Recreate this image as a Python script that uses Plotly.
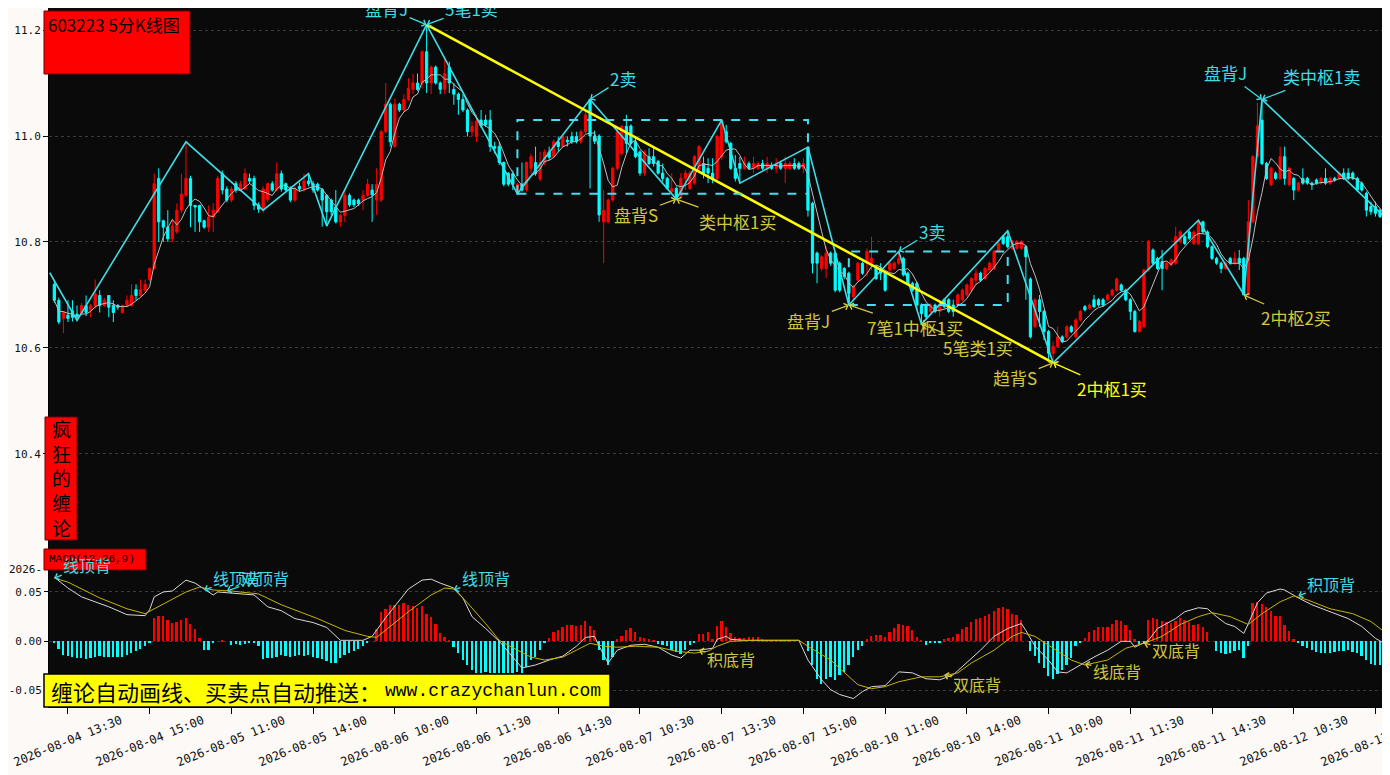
import numpy as np
import pandas as pd
import plotly.graph_objects as go

# 5-minute bars, bar 0 = 2026-08-04 13:15, 48 bars per trading day
opens = [
    10.720, 10.690, 10.656, 10.662, 10.670, 10.664, 10.667, 10.680, 10.671, 10.680,
    10.699, 10.680, 10.699, 10.680, 10.680, 10.667, 10.680, 10.680, 10.710, 10.699,
    10.709, 10.729, 10.750, 10.920, 10.840, 10.828, 10.806, 10.819, 10.860, 10.888,
    10.920, 10.869, 10.869, 10.840, 10.828, 10.847, 10.857, 10.929, 10.900, 10.879,
    10.910, 10.898, 10.900, 10.920, 10.920, 10.870, 10.860, 10.880, 10.910, 10.898,
    10.929, 10.910, 10.900, 10.879, 10.905, 10.900, 10.915, 10.910, 10.909, 10.899,
    10.888, 10.879, 10.866, 10.838, 10.850, 10.888, 10.879, 10.879, 10.879, 10.888,
    10.898, 10.879, 10.879, 11.008, 11.060, 10.980, 11.060, 11.049, 11.069, 11.088,
    11.100, 11.100, 11.159, 11.100, 11.130, 11.100, 11.088, 11.130, 11.088, 11.079,
    11.069, 11.049, 11.008, 10.999, 11.030, 11.030, 11.030, 10.980, 10.980, 10.950,
    10.929, 10.929, 10.898, 10.909, 10.899, 10.939, 10.950, 10.919, 10.950, 10.970,
    10.961, 10.989, 10.980, 10.992, 10.999, 10.999, 10.989, 11.008, 11.069, 11.000,
    11.000, 10.838, 10.838, 10.879, 10.939, 10.967, 11.018, 11.019, 10.989, 10.970,
    10.930, 10.961, 10.961, 10.952, 10.930, 10.920, 10.895, 10.901, 10.886, 10.920,
    10.901, 10.911, 10.936, 10.948, 10.939, 10.930, 10.920, 10.961, 11.008, 10.986,
    10.939, 10.948, 10.939, 10.948, 10.939, 10.939, 10.948, 10.939, 10.945, 10.939,
    10.948, 10.939, 10.939, 10.948, 10.948, 10.939, 10.979, 10.873, 10.779, 10.750,
    10.750, 10.779, 10.779, 10.760, 10.750, 10.741, 10.697, 10.728, 10.760, 10.760,
    10.760, 10.753, 10.750, 10.741, 10.747, 10.750, 10.760, 10.769, 10.741, 10.722,
    10.722, 10.681, 10.681, 10.669, 10.681, 10.669, 10.691, 10.691, 10.681, 10.681,
    10.691, 10.700, 10.709, 10.728, 10.741, 10.731, 10.747, 10.750, 10.782, 10.810,
    10.810, 10.788, 10.788, 10.788, 10.791, 10.730, 10.640, 10.691, 10.669, 10.631,
    10.590, 10.603, 10.621, 10.621, 10.640, 10.621, 10.653, 10.678, 10.675, 10.691,
    10.691, 10.691, 10.691, 10.700, 10.709, 10.719, 10.709, 10.691, 10.669, 10.631,
    10.640, 10.747, 10.785, 10.769, 10.763, 10.750, 10.757, 10.760, 10.801, 10.810,
    10.819, 10.797, 10.797, 10.838, 10.819, 10.791, 10.769, 10.760, 10.750, 10.769,
    10.760, 10.769, 10.769, 10.700, 10.838, 10.961, 11.030, 10.948, 10.908, 10.930,
    10.920, 10.961, 10.908, 10.920, 10.898, 10.920, 10.920, 10.911, 10.917, 10.911,
    10.920, 10.911, 10.920, 10.920, 10.930, 10.930, 10.930, 10.920, 10.911, 10.892,
    10.867, 10.867, 10.860, 10.857, 10.851,
]
highs = [
    10.727, 10.695, 10.670, 10.690, 10.690, 10.680, 10.685, 10.699, 10.683, 10.729,
    10.709, 10.695, 10.700, 10.690, 10.683, 10.682, 10.699, 10.720, 10.720, 10.729,
    10.729, 10.752, 10.929, 10.939, 10.842, 10.860, 10.844, 10.873, 10.929, 10.989,
    10.925, 10.870, 10.870, 10.842, 10.869, 10.873, 10.925, 10.935, 10.905, 10.905,
    10.915, 10.915, 10.939, 10.929, 10.925, 10.875, 10.905, 10.912, 10.915, 10.950,
    10.935, 10.912, 10.905, 10.905, 10.912, 10.929, 10.929, 10.915, 10.912, 10.902,
    10.890, 10.882, 10.898, 10.853, 10.898, 10.892, 10.882, 10.882, 10.898, 10.919,
    10.909, 10.939, 11.011, 11.100, 11.063, 11.071, 11.063, 11.079, 11.109, 11.118,
    11.118, 11.162, 11.210, 11.133, 11.133, 11.103, 11.150, 11.140, 11.100, 11.082,
    11.079, 11.052, 11.028, 11.040, 11.049, 11.040, 11.049, 10.989, 10.989, 10.952,
    10.932, 10.935, 10.912, 10.950, 10.952, 10.967, 10.980, 10.970, 10.975, 10.980,
    10.993, 10.999, 11.003, 10.999, 11.008, 11.008, 11.012, 11.045, 11.069, 11.010,
    11.003, 10.898, 10.882, 10.942, 11.018, 11.021, 11.040, 11.022, 10.999, 10.973,
    10.973, 10.977, 10.977, 10.955, 10.948, 10.923, 10.930, 10.905, 10.930, 10.936,
    10.935, 10.964, 10.983, 10.961, 10.958, 10.958, 11.002, 11.030, 11.021, 10.989,
    10.964, 10.961, 10.961, 10.952, 10.961, 10.952, 10.955, 10.961, 10.950, 10.958,
    10.952, 10.961, 10.952, 10.958, 10.952, 10.958, 10.979, 10.876, 10.782, 10.775,
    10.791, 10.782, 10.782, 10.763, 10.753, 10.744, 10.719, 10.763, 10.763, 10.788,
    10.810, 10.756, 10.760, 10.744, 10.763, 10.763, 10.782, 10.772, 10.744, 10.725,
    10.725, 10.684, 10.684, 10.684, 10.684, 10.691, 10.694, 10.694, 10.691, 10.703,
    10.712, 10.722, 10.734, 10.750, 10.744, 10.753, 10.763, 10.785, 10.800, 10.813,
    10.821, 10.804, 10.804, 10.804, 10.794, 10.733, 10.694, 10.700, 10.672, 10.634,
    10.612, 10.640, 10.624, 10.643, 10.643, 10.656, 10.672, 10.681, 10.684, 10.700,
    10.694, 10.694, 10.703, 10.712, 10.733, 10.722, 10.712, 10.694, 10.672, 10.653,
    10.750, 10.804, 10.788, 10.772, 10.785, 10.763, 10.769, 10.829, 10.822, 10.813,
    10.822, 10.822, 10.840, 10.840, 10.822, 10.794, 10.772, 10.763, 10.763, 10.772,
    10.782, 10.785, 10.772, 10.879, 10.964, 11.062, 11.069, 10.951, 10.942, 10.933,
    10.980, 10.980, 10.942, 10.923, 10.914, 10.939, 10.923, 10.914, 10.920, 10.923,
    10.939, 10.923, 10.923, 10.933, 10.939, 10.939, 10.933, 10.923, 10.914, 10.895,
    10.876, 10.876, 10.863, 10.860, 10.854,
]
lows = [
    10.685, 10.645, 10.628, 10.649, 10.650, 10.652, 10.662, 10.660, 10.658, 10.674,
    10.667, 10.677, 10.658, 10.649, 10.672, 10.665, 10.678, 10.678, 10.690, 10.697,
    10.705, 10.726, 10.748, 10.800, 10.800, 10.800, 10.800, 10.815, 10.855, 10.885,
    10.828, 10.819, 10.819, 10.825, 10.819, 10.819, 10.855, 10.890, 10.875, 10.875,
    10.893, 10.895, 10.898, 10.910, 10.860, 10.855, 10.855, 10.875, 10.895, 10.895,
    10.895, 10.895, 10.875, 10.875, 10.895, 10.895, 10.905, 10.893, 10.895, 10.829,
    10.830, 10.850, 10.835, 10.829, 10.838, 10.866, 10.866, 10.868, 10.860, 10.885,
    10.838, 10.851, 10.875, 11.005, 10.980, 10.978, 11.045, 11.045, 11.066, 11.079,
    11.085, 11.090, 11.081, 11.079, 11.097, 11.079, 11.079, 11.081, 11.059, 11.040,
    11.045, 10.999, 10.999, 10.989, 11.015, 11.017, 10.970, 10.967, 10.945, 10.905,
    10.905, 10.898, 10.891, 10.895, 10.895, 10.929, 10.925, 10.915, 10.945, 10.955,
    10.958, 10.970, 10.977, 10.980, 10.985, 10.986, 10.985, 11.005, 10.901, 10.985,
    10.838, 10.760, 10.835, 10.876, 10.935, 10.963, 10.967, 10.983, 10.958, 10.925,
    10.925, 10.945, 10.942, 10.927, 10.914, 10.898, 10.892, 10.879, 10.883, 10.898,
    10.898, 10.908, 10.933, 10.920, 10.911, 10.911, 10.917, 10.955, 10.986, 10.936,
    10.914, 10.911, 10.936, 10.936, 10.930, 10.936, 10.936, 10.930, 10.936, 10.930,
    10.936, 10.911, 10.936, 10.936, 10.936, 10.930, 10.848, 10.741, 10.722, 10.745,
    10.732, 10.755, 10.705, 10.705, 10.730, 10.681, 10.690, 10.725, 10.738, 10.735,
    10.747, 10.728, 10.728, 10.706, 10.744, 10.747, 10.757, 10.735, 10.719, 10.706,
    10.672, 10.645, 10.656, 10.666, 10.666, 10.659, 10.675, 10.666, 10.659, 10.678,
    10.688, 10.697, 10.706, 10.719, 10.725, 10.728, 10.744, 10.747, 10.779, 10.794,
    10.788, 10.785, 10.785, 10.785, 10.691, 10.618, 10.637, 10.640, 10.615, 10.574,
    10.572, 10.600, 10.609, 10.618, 10.628, 10.618, 10.650, 10.669, 10.672, 10.675,
    10.678, 10.678, 10.688, 10.697, 10.706, 10.706, 10.688, 10.653, 10.629, 10.629,
    10.637, 10.744, 10.757, 10.747, 10.709, 10.747, 10.754, 10.757, 10.797, 10.794,
    10.804, 10.794, 10.794, 10.816, 10.788, 10.766, 10.757, 10.741, 10.747, 10.757,
    10.757, 10.747, 10.700, 10.700, 10.835, 10.958, 10.945, 10.917, 10.905, 10.917,
    10.917, 10.908, 10.905, 10.879, 10.895, 10.908, 10.908, 10.898, 10.908, 10.908,
    10.908, 10.908, 10.914, 10.917, 10.917, 10.917, 10.917, 10.895, 10.895, 10.848,
    10.851, 10.848, 10.845, 10.839, 10.835,
]
closes = [
    10.690, 10.649, 10.667, 10.656, 10.658, 10.660, 10.680, 10.667, 10.680, 10.702,
    10.680, 10.690, 10.677, 10.667, 10.677, 10.680, 10.690, 10.699, 10.699, 10.710,
    10.720, 10.750, 10.910, 10.838, 10.828, 10.806, 10.830, 10.860, 10.890, 10.920,
    10.869, 10.866, 10.838, 10.828, 10.847, 10.860, 10.920, 10.898, 10.879, 10.900,
    10.898, 10.910, 10.929, 10.915, 10.869, 10.862, 10.900, 10.910, 10.898, 10.929,
    10.900, 10.898, 10.879, 10.900, 10.900, 10.915, 10.910, 10.898, 10.898, 10.879,
    10.857, 10.857, 10.838, 10.850, 10.888, 10.870, 10.870, 10.872, 10.888, 10.909,
    10.889, 10.909, 11.008, 11.060, 10.989, 11.060, 11.049, 11.069, 11.090, 11.100,
    11.088, 11.159, 11.100, 11.130, 11.100, 11.088, 11.118, 11.100, 11.079, 11.069,
    11.049, 11.008, 11.018, 11.028, 11.019, 11.021, 10.980, 10.977, 10.950, 10.909,
    10.909, 10.909, 10.909, 10.898, 10.950, 10.961, 10.929, 10.950, 10.970, 10.960,
    10.989, 10.980, 10.999, 10.989, 10.989, 10.990, 11.008, 11.040, 11.000, 10.990,
    10.851, 10.860, 10.879, 10.939, 11.008, 11.018, 10.986, 10.986, 10.961, 10.930,
    10.970, 10.948, 10.948, 10.930, 10.920, 10.901, 10.901, 10.881, 10.920, 10.930,
    10.930, 10.961, 10.980, 10.930, 10.930, 10.920, 10.999, 11.030, 10.989, 10.939,
    10.920, 10.939, 10.948, 10.939, 10.948, 10.948, 10.939, 10.948, 10.939, 10.948,
    10.939, 10.948, 10.948, 10.939, 10.939, 10.948, 10.860, 10.760, 10.760, 10.772,
    10.779, 10.760, 10.709, 10.709, 10.735, 10.703, 10.716, 10.760, 10.741, 10.782,
    10.769, 10.731, 10.741, 10.709, 10.760, 10.760, 10.769, 10.738, 10.722, 10.709,
    10.681, 10.665, 10.659, 10.681, 10.669, 10.681, 10.678, 10.669, 10.669, 10.700,
    10.709, 10.719, 10.731, 10.741, 10.728, 10.750, 10.760, 10.782, 10.797, 10.797,
    10.791, 10.801, 10.801, 10.801, 10.772, 10.621, 10.691, 10.669, 10.631, 10.590,
    10.603, 10.621, 10.612, 10.640, 10.631, 10.653, 10.669, 10.672, 10.681, 10.678,
    10.681, 10.681, 10.700, 10.709, 10.730, 10.709, 10.691, 10.669, 10.631, 10.650,
    10.747, 10.801, 10.760, 10.750, 10.750, 10.760, 10.766, 10.810, 10.819, 10.797,
    10.807, 10.819, 10.838, 10.819, 10.791, 10.769, 10.760, 10.750, 10.760, 10.760,
    10.769, 10.760, 10.700, 10.838, 10.961, 11.019, 10.948, 10.920, 10.939, 10.920,
    10.961, 10.920, 10.939, 10.898, 10.911, 10.911, 10.911, 10.908, 10.911, 10.920,
    10.911, 10.920, 10.917, 10.930, 10.920, 10.920, 10.920, 10.898, 10.898, 10.860,
    10.857, 10.854, 10.848, 10.842, 10.838,
]

# MACD(12,26,9) histogram, one value per bar
macd_hist = [
    -0.001, -0.008, -0.014, -0.015, -0.016, -0.017, -0.017, -0.018, -0.017, -0.016,
    -0.015, -0.016, -0.016, -0.016, -0.016, -0.016, -0.014, -0.012, -0.010, -0.008,
    -0.005, -0.002, 0.024, 0.026, 0.026, 0.022, 0.019, 0.020, 0.022, 0.024,
    0.018, 0.012, 0.003, -0.009, -0.009, -0.002, 0.000, 0.001, 0.000, -0.004,
    -0.003, -0.004, -0.003, -0.002, -0.002, -0.005, -0.018, -0.017, -0.017, -0.016,
    -0.014, -0.015, -0.016, -0.015, -0.014, -0.015, -0.014, -0.016, -0.017, -0.018,
    -0.020, -0.022, -0.022, -0.017, -0.014, -0.012, -0.010, -0.008, -0.005, -0.002,
    0.000, 0.012, 0.030, 0.033, 0.037, 0.037, 0.037, 0.039, 0.037, 0.036,
    0.034, 0.036, 0.028, 0.025, 0.018, 0.008, 0.004, 0.001, -0.006, -0.012,
    -0.019, -0.024, -0.029, -0.032, -0.032, -0.031, -0.032, -0.032, -0.032, -0.032,
    -0.032, -0.032, -0.031, -0.032, -0.026, -0.019, -0.016, -0.009, -0.002, 0.003,
    0.009, 0.011, 0.014, 0.017, 0.017, 0.016, 0.017, 0.021, 0.016, 0.011,
    -0.009, -0.019, -0.024, -0.016, 0.002, 0.005, 0.011, 0.013, 0.009, 0.004,
    0.003, 0.002, 0.001, -0.003, -0.004, -0.005, -0.009, -0.011, -0.013, -0.009,
    -0.004, -0.002, 0.007, 0.007, 0.009, 0.002, 0.016, 0.021, 0.014, 0.008,
    0.004, 0.003, 0.003, 0.004, 0.004, 0.004, 0.002, 0.001, 0.001, 0.001,
    0.001, 0.001, 0.001, 0.000, 0.000, 0.000, -0.010, -0.024, -0.038, -0.043,
    -0.038, -0.036, -0.039, -0.034, -0.031, -0.024, -0.016, -0.009, -0.005, 0.002,
    0.005, 0.006, 0.006, 0.004, 0.009, 0.013, 0.018, 0.017, 0.016, 0.011,
    0.004, 0.001, -0.004, -0.002, -0.001, -0.001, 0.002, 0.003, 0.004, 0.007,
    0.012, 0.014, 0.020, 0.023, 0.024, 0.026, 0.028, 0.031, 0.034, 0.035,
    0.033, 0.028, 0.027, 0.022, 0.000, -0.010, -0.015, -0.022, -0.027, -0.035,
    -0.038, -0.033, -0.029, -0.024, -0.017, -0.005, -0.001, 0.003, 0.009, 0.011,
    0.014, 0.014, 0.014, 0.018, 0.022, 0.021, 0.017, 0.011, 0.002, -0.003,
    -0.003, 0.022, 0.024, 0.023, 0.021, 0.020, 0.019, 0.021, 0.024, 0.022,
    0.020, 0.017, 0.018, 0.014, 0.009, 0.000, -0.010, -0.012, -0.013, -0.012,
    -0.010, -0.009, -0.017, -0.005, 0.039, 0.040, 0.038, 0.035, 0.031, 0.026,
    0.026, 0.017, 0.010, 0.002, -0.001, -0.005, -0.007, -0.009, -0.011, -0.012,
    -0.012, -0.012, -0.011, -0.010, -0.010, -0.009, -0.011, -0.012, -0.015, -0.019,
    -0.023, -0.024, -0.024, -0.022, -0.023,
]

# DIF / DEA lines, read at these bars
dif_idx = [0, 3, 6, 9, 12, 16, 20, 21, 22, 24, 26, 29, 31, 33, 35, 36, 39, 44, 47, 50,
           53, 57, 60, 63, 68, 70, 73, 75, 76, 78, 81, 83, 85, 88, 90, 92, 95, 98, 101, 103,
           106, 109, 112, 115, 117, 119, 120, 122, 124, 127, 130, 133, 136, 138, 140, 142, 145, 146, 148, 149,
           152, 157, 164, 166, 169, 171, 173, 176, 178, 180, 183, 186, 189, 192, 195, 198, 201, 204, 207, 210,
           213, 214, 216, 219, 221, 223, 226, 229, 232, 235, 237, 238, 241, 243, 247, 249, 252, 254, 256, 258,
           260, 262, 263, 265, 267, 270, 271, 274, 277, 282, 285, 288, 291, 294]
dif_vals = [0.065, 0.054, 0.045, 0.040, 0.035, 0.027, 0.026, 0.032, 0.045, 0.050,
            0.051, 0.062, 0.059, 0.053, 0.047, 0.050, 0.049, 0.047, 0.035, 0.031,
            0.023, 0.019, 0.014, 0.001, 0.001, 0.005, 0.024, 0.036, 0.042, 0.053,
            0.062, 0.063, 0.059, 0.054, 0.044, 0.025, 0.013, 0.000, -0.016, -0.027,
            -0.024, -0.019, -0.015, -0.005, 0.004, 0.005, -0.005, -0.022, -0.009, -0.004,
            -0.003, -0.006, -0.014, -0.017, -0.009, -0.009, -0.007, 0.002, 0.005, 0.002,
            0.001, 0.001, 0.001, -0.019, -0.039, -0.049, -0.054, -0.058, -0.051, -0.046,
            -0.045, -0.031, -0.032, -0.038, -0.039, -0.034, -0.022, -0.009, 0.005, 0.013,
            0.018, 0.011, -0.005, -0.019, -0.031, -0.032, -0.024, -0.016, -0.009, 0.000,
            0.000, -0.006, 0.001, 0.013, 0.023, 0.030, 0.034, 0.033, 0.025, 0.018,
            0.015, 0.008, 0.018, 0.039, 0.049, 0.053, 0.052, 0.044, 0.037, 0.028,
            0.023, 0.015, 0.003, -0.005]
dea_idx = [0, 3, 10, 16, 20, 25, 29, 32, 35, 39, 45, 50, 54, 58, 64, 69, 71, 74, 78, 83,
           86, 88, 91, 95, 98, 102, 105, 108, 112, 115, 118, 121, 124, 128, 133, 137, 141, 144, 146, 149,
           154, 164, 166, 171, 174, 177, 180, 183, 186, 191, 195, 199, 202, 207, 211, 213, 216, 220, 224, 227,
           232, 236, 240, 244, 248, 252, 255, 259, 263, 266, 270, 273, 276, 281, 286, 290, 294]
dea_vals = [0.064, 0.060, 0.044, 0.033, 0.028, 0.040, 0.050, 0.055, 0.052, 0.051,
            0.048, 0.037, 0.030, 0.023, 0.011, 0.005, 0.004, 0.015, 0.030, 0.047,
            0.054, 0.053, 0.039, 0.018, 0.001, -0.009, -0.016, -0.019, -0.016, -0.009,
            -0.002, -0.005, -0.006, -0.005, -0.006, -0.010, -0.012, -0.010, -0.005, 0.000,
            0.001, 0.001, -0.005, -0.019, -0.032, -0.044, -0.048, -0.046, -0.041, -0.036,
            -0.036, -0.032, -0.022, -0.009, 0.005, 0.009, 0.005, -0.007, -0.019, -0.024,
            -0.019, -0.007, -0.002, 0.005, 0.017, 0.025, 0.029, 0.025, 0.017, 0.028,
            0.040, 0.046, 0.042, 0.033, 0.028, 0.020, 0.006]

# chan-theory strokes (bi), segment and pivot zones
pen_idx = [-1, 5, 29, 46, 56, 60, 82, 102, 118, 137, 147, 151, 166, 175, 186, 191,
           210, 220, 252, 262, 266, 294.5]
pen_price = [10.742, 10.652, 10.989, 10.860, 10.929, 10.830, 11.210, 10.891, 11.069, 10.881,
             11.030, 10.911, 10.979, 10.681, 10.782, 10.645, 10.821, 10.572, 10.841, 10.701,
             11.069, 10.835]
seg_idx = [82, 220]
seg_price = [11.210, 10.572]
zs_start = [102, 175]
zs_end = [166, 210]
zs_low = [10.891, 10.681]
zs_high = [11.030, 10.782]

tick_labels = [
    "2026-08-04 13:30", "2026-08-04 15:00", "2026-08-05 11:00", "2026-08-05 14:00",
    "2026-08-06 10:00", "2026-08-06 11:30", "2026-08-06 14:30", "2026-08-07 10:30",
    "2026-08-07 13:30", "2026-08-07 15:00", "2026-08-10 11:00", "2026-08-10 14:00",
    "2026-08-11 10:00", "2026-08-11 11:30", "2026-08-11 14:30", "2026-08-12 10:30",
    "2026-08-12 13:30",
]

# buy / sell point labels on the K-line panel
sig_text = ["盘背J", "5笔1卖", "2卖", "盘背S", "类中枢1买", "3卖", "盘背J", "7笔1中枢1买",
            "5笔类1买", "趋背S", "2中枢1买", "盘背J", "类中枢1卖", "2中枢2买"]
sig_idx = [82, 82, 118, 137, 137, 186, 175, 175, 191, 220, 220, 266, 266, 262]
sig_price = [11.210, 11.210, 11.069, 10.881, 10.881, 10.782, 10.681, 10.681, 10.645,
             10.572, 10.572, 11.069, 11.069, 10.700]
# divergence labels on the MACD panel
div_text = ["线顶背", "线顶背", "双顶背", "线顶背", "积底背", "双底背", "线底背", "双底背", "积顶背"]
div_idx = [0, 33, 38, 88, 142, 196, 227, 240, 274]
div_val = [0.064, 0.052, 0.051, 0.052, -0.009, -0.034, -0.023, -0.002, 0.046]

assert len(opens) == len(highs) == len(lows) == len(closes) == len(macd_hist) == 295
assert len(dif_idx) == len(dif_vals) and len(dea_idx) == len(dea_vals)

n = len(closes)
x = list(range(n))
ma = pd.Series(closes).rolling(5, min_periods=1).mean()

CY = "#3EDCE4"
YL = "#D2C640"
YB = "#FFFF00"
# the page body keeps an 8px margin, so the figure is drawn 8px smaller
W, H = 1382, 767
OFF = 8
L_M, B_M = 49 - OFF, 68
PW, PH = W - L_M, H - B_M


def px_x(p):
    # screen pixel -> paper x
    return (p - OFF - L_M) / PW


def px_y(p):
    # screen pixel -> paper y
    return (PH - (p - OFF)) / PH


split = px_y(547)

fig = go.Figure()
fig.add_trace(go.Candlestick(
    x=x, open=opens, high=highs, low=lows, close=closes,
    increasing=dict(line=dict(color="#FF0000", width=1), fillcolor="#FF0000"),
    decreasing=dict(line=dict(color="#00FFFF", width=1), fillcolor="#00FFFF"),
    whiskerwidth=0, hoverinfo="skip",
))
fig.add_trace(go.Scatter(x=x, y=ma, mode="lines", line=dict(color="#BDBDBD", width=1)))
fig.add_trace(go.Scatter(x=pen_idx, y=pen_price, mode="lines", line=dict(color="#40DCE6", width=1.6)))
fig.add_trace(go.Scatter(x=seg_idx, y=seg_price, mode="lines", line=dict(color="#FFFF00", width=2.5)))

bar_colors = ["#FF0000" if v > 0 else "#00FFFF" for v in macd_hist]
fig.add_trace(go.Bar(x=x, y=macd_hist, marker=dict(color=bar_colors, line=dict(width=0)),
                     width=0.4, yaxis="y2"))
fig.add_trace(go.Scatter(x=dif_idx, y=dif_vals, mode="lines", yaxis="y2",
                         line=dict(color="#D8D8D8", width=1)))
fig.add_trace(go.Scatter(x=dea_idx, y=dea_vals, mode="lines", yaxis="y2",
                         line=dict(color="#C8B400", width=1)))

shapes = []
for s, e, lo, hi in zip(zs_start, zs_end, zs_low, zs_high):
    shapes.append(dict(type="rect", xref="x", yref="y", x0=s, x1=e, y0=lo, y1=hi,
                       line=dict(color="#40E0F0", width=2, dash="dash")))
# title boxes
shapes.append(dict(type="rect", xref="paper", yref="paper", x0=px_x(44), x1=px_x(190),
                   y0=px_y(74), y1=px_y(11), fillcolor="#FF0000", line=dict(color="#700000", width=1)))
shapes.append(dict(type="rect", xref="paper", yref="paper", x0=px_x(45), x1=px_x(77),
                   y0=px_y(540), y1=px_y(417), fillcolor="#FF0000", line=dict(color="#700000", width=1)))
shapes.append(dict(type="rect", xref="paper", yref="paper", x0=px_x(44), x1=px_x(146),
                   y0=px_y(570), y1=px_y(549), fillcolor="#FF0000", line=dict(color="#700000", width=1)))
shapes.append(dict(type="rect", xref="paper", yref="paper", x0=px_x(44), x1=px_x(610),
                   y0=px_y(707), y1=px_y(674), fillcolor="#FFFF00", line=dict(color="#000000", width=1.5)))

annotations = []
sig_off = [(-40, -26, CY), (45, -20, CY), (33, -21, CY), (-40, 15, YL), (61, 22, YL), (33, -20, CY),
           (-40, 15, YL), (66, 22, YL), (57, 23, YL), (-38, 15, YL), (59, 26, YB), (-36, -27, CY),
           (60, -23, CY), (52, 23, YL)]
for t, i, p, (ax, ay, c) in zip(sig_text, sig_idx, sig_price, sig_off):
    annotations.append(dict(x=i, y=p, xref="x", yref="y", text=t, ax=ax, ay=ay,
                            showarrow=True, arrowhead=4, arrowsize=1, arrowwidth=1.3, arrowcolor=c,
                            font=dict(family="Noto Sans CJK SC", size=17, color=c)))
div_off = [(33, -13, CY), (33, -12, CY), (38, -13, CY), (32, -12, CY), (32, 9, YL), (33, 9, YL),
           (32, 7, YL), (32, 7, YL), (33, -12, CY)]
for t, i, v, (ax, ay, c) in zip(div_text, div_idx, div_val, div_off):
    annotations.append(dict(x=i, y=v, xref="x", yref="y2", text=t, ax=ax, ay=ay,
                            showarrow=True, arrowhead=4, arrowsize=1, arrowwidth=1.3, arrowcolor=c,
                            font=dict(family="Noto Sans CJK SC", size=16, color=c)))

tick_idx = [3 + 18 * k for k in range(len(tick_labels))]
for i, lab in zip(tick_idx, tick_labels):
    annotations.append(dict(x=i, y=0, xref="x", yref="paper", yshift=-34, text=lab,
                            textangle=-22, showarrow=False, xanchor="center", yanchor="middle",
                            font=dict(family="DejaVu Sans Mono", size=12, color="#111111")))

annotations += [
    dict(x=px_x(46), y=px_y(24), xref="paper", yref="paper", text="603223 5分K线图",
         showarrow=False, xanchor="left", yanchor="middle",
         font=dict(family="Noto Sans CJK SC", size=17, color="#000000")),
    dict(x=px_x(61), y=px_y(478), xref="paper", yref="paper", text="疯<br>狂<br>的<br>缠<br>论",
         showarrow=False, xanchor="center", yanchor="middle",
         font=dict(family="Noto Sans CJK SC", size=19, color="#000000")),
    dict(x=px_x(47), y=px_y(559), xref="paper", yref="paper", text="MACD(12,26,9)",
         showarrow=False, xanchor="left", yanchor="middle",
         font=dict(family="Liberation Mono", size=11, color="#000000")),
    dict(x=px_x(49), y=px_y(691), xref="paper", yref="paper", text="缠论自动画线、买卖点自动推送：",
         showarrow=False, xanchor="left", yanchor="middle",
         font=dict(family="Noto Sans CJK SC", size=22, color="#000000")),
    dict(x=px_x(383), y=px_y(691), xref="paper", yref="paper", text="www.crazychanlun.com",
         showarrow=False, xanchor="left", yanchor="middle",
         font=dict(family="Liberation Mono", size=18, color="#000000")),
    dict(x=0, y=0.0733, xref="paper", yref="y2", xshift=-5, text="2026-", showarrow=False,
         xanchor="right", yanchor="middle",
         font=dict(family="DejaVu Sans Mono", size=11, color="#111111")),
]

axis_font = dict(family="DejaVu Sans Mono", size=11, color="#111111")
fig.update_layout(
    width=W, height=H, margin=dict(l=L_M, r=0, t=0, b=B_M, autoexpand=False),
    paper_bgcolor="#FCF9F7", plot_bgcolor="#0A0A0A",
    showlegend=False, hovermode=False, bargap=0,
    shapes=shapes, annotations=annotations,
    xaxis=dict(range=[-1.17, 294.2], anchor="y2", rangeslider=dict(visible=False),
               tickvals=tick_idx, showticklabels=False, ticks="outside", ticklen=6,
               tickcolor="#000000", showgrid=False, zeroline=False, automargin=False,
               showline=True, linecolor="#000000"),
    yaxis=dict(domain=[split, 1], range=[10.2245, 11.2 + (30 - OFF) / 530], anchor="x",
               tickvals=[10.4, 10.6, 10.8, 11.0, 11.2],
               ticktext=["10.4", "10.6", "10.8", "11.0", "11.2"], automargin=False,
               ticks="outside", ticklen=5, tickcolor="#000000", tickfont=axis_font,
               showgrid=True, gridcolor="#3A3A3A", griddash="dot", gridwidth=1,
               zeroline=False, showline=True, linecolor="#000000"),
    yaxis2=dict(domain=[0, split], range=[-0.0666, 0.0956], anchor="x",
                tickvals=[-0.05, 0.0, 0.05], ticktext=["-0.05", "0.00", "0.05"], automargin=False,
                ticks="outside", ticklen=4, tickcolor="#000000", tickfont=axis_font,
                showgrid=True, gridcolor="#3A3A3A", griddash="dot", gridwidth=1,
                zeroline=False, showline=True, linecolor="#000000"),
)

fig.write_html("out.html")
